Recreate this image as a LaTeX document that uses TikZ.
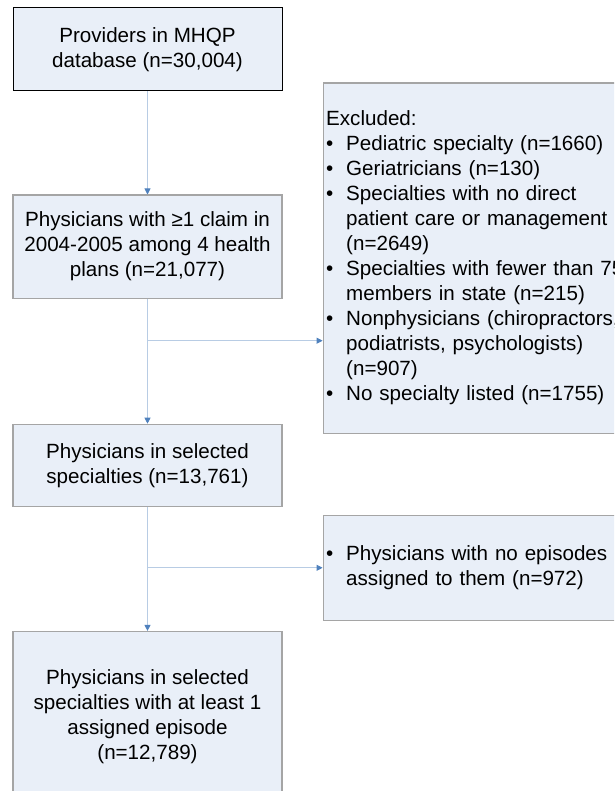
\documentclass[tikz,border=0pt]{standalone}
\usepackage{fontspec}
\setmainfont{Liberation Sans}
\usetikzlibrary{positioning,arrows.meta,calc}
\definecolor{boxfill}{RGB}{233,239,248}
\definecolor{boxgray}{RGB}{165,165,165}
\definecolor{linkblue}{RGB}{184,204,228}
\definecolor{tipblue}{RGB}{79,129,189}
\newcommand{\bull}{\makebox[20pt][l]{\textbullet}}
\newcommand{\cont}{\hspace*{20pt}}

\begin{document}
\begin{tikzpicture}[x=1pt, y=-1pt, >=Stealth,
		stepbox/.style={draw=boxgray, fill=boxfill, line width=1.2pt, rectangle, minimum width=269pt, align=center, inner sep=0pt, font=\fontsize{20.6}{25}\selectfont},
		sidebox/.style={draw=boxgray, fill=boxfill, line width=1.2pt, rectangle, text width=310pt, inner xsep=3pt, inner ysep=0pt, align=left, font=\fontsize{20.6}{25}\selectfont},
		flowline/.style={line width=0.9pt, color=linkblue, -{Triangle[length=6pt, width=6pt, color=tipblue]}}
		]
		\useasboundingbox (0,0) rectangle (614,791);
		\clip (0,0) rectangle (614,791);
		
		\node[stepbox, draw=black, line width=1pt, minimum height=83pt](prov) at (147.5,49.5) {Providers in MHQP\\database (n=30,004)};
		\node[stepbox, minimum height=103pt](claims) [below=103pt of prov] {Physicians with ≥1 claim in\\2004-2005 among 4 health\\plans (n=21,077)};
		\node[stepbox, minimum height=82pt](select) [below=125pt of claims] {Physicians in selected\\specialties (n=13,761)};
		\node[stepbox, minimum height=170pt](episode) [below=124pt of select] {Physicians in selected\\specialties with at least 1\\assigned episode\\(n=12,789)};
		
		\node[sidebox, minimum height=350pt](excl) [right=40pt of claims, yshift=-11.5pt] {Excluded:\\
			\bull Pediatric specialty (n=1660)\\
			\bull Geriatricians (n=130)\\
			\bull Specialties with no direct\\
			\cont patient care or management\\
			\cont (n=2649)\\
			\bull Specialties with fewer than 75\\
			\cont members in state (n=215)\\
			\bull Nonphysicians (chiropractors,\\
			\cont podiatrists, psychologists)\\
			\cont (n=907)\\
			\bull No specialty listed (n=1755)};
		\node[sidebox, minimum height=105pt](noepi) [below=81pt of excl] {\bull Physicians with no episodes\\
			\cont assigned to them (n=972)};
		
		\coordinate[below=42pt of claims.south] (cut1);
		
		\draw [flowline] (prov) to [] (claims);
		\draw [flowline] (claims) to [] (select);
		\draw [flowline] (select) to [] (episode);
		\draw [flowline] (cut1) to [] (cut1 -| excl.west);
		\draw [flowline] (select.south |- noepi.west) to [] (noepi.west);
		\end{tikzpicture}
\end{document}
